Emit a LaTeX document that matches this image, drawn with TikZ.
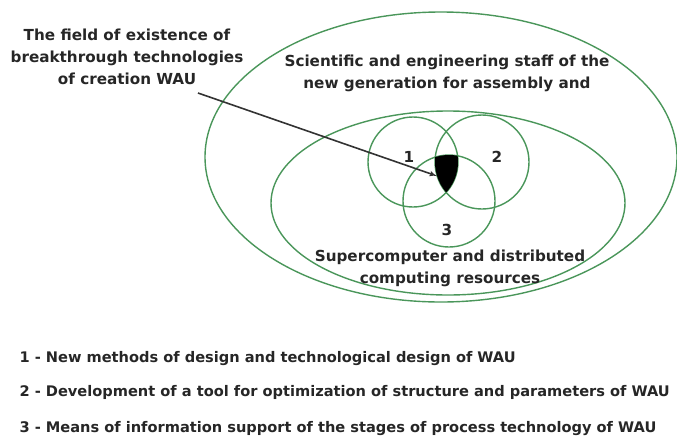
\documentclass[tikz,border=0pt]{standalone}
\usepackage{fontspec}
\setmainfont{DejaVu Sans}
\usetikzlibrary{arrows,shapes}
\definecolor{venngreen}{RGB}{74,150,90}
\tikzstyle{ring}=[ellipse,draw=venngreen,line width=1.4pt,inner sep=0pt]
\tikzstyle{venn}=[circle,draw=venngreen,line width=1.4pt,inner sep=0pt]
\tikzstyle{lbl}=[align=center,text=black!85,font=\bfseries\fontsize{15.2}{22}\selectfont]
\tikzstyle{item}=[anchor=base west,text=black!85,font=\bfseries\fontsize{14.6}{18}\selectfont]
\tikzstyle{edge} = [draw,line width=1.6pt,black!80,->,>=latex']

\begin{document}
\begin{tikzpicture}[x=1pt,y=-1pt]
      \useasboundingbox (0,0) rectangle (677,440);
      \node[ring,minimum width=472pt,minimum height=290pt] (staff) at (441,157) {};
      \node[ring,minimum width=354pt,minimum height=184pt] (super) at (448,203) {};
      \node[venn,minimum size=90pt] (c1) at (413,162) {};
      \node[venn,minimum size=94pt] (c2) at (482,162) {};
      \node[venn,minimum size=92pt] (c3) at (449,201) {};
      % common part of the three circles
      \begin{scope}
        \clip (c1.center) circle (45pt);
        \clip (c2.center) circle (47pt);
        \fill[black] (c3.center) circle (46pt);
      \end{scope}
      \node[lbl] (field) at (127,57) {The field of existence of\\breakthrough technologies\\of creation WAU};
      \node[lbl] (stafftext) at (447,73) {Scientific and engineering staff of the\\new generation for assembly and};
      \node[lbl] (supertext) at (450,268) {Supercomputer and distributed\\computing resources};
      \node[lbl] (n1) at (409,157) {1};
      \node[lbl] (n2) at (497,157) {2};
      \node[lbl] (n3) at (447,230) {3};
      \coordinate (tail) at (198,93);
      \coordinate (core) at (437,176);
      \draw[edge] (tail) -- (core);
      \node[item] (i1) at (16,362) {1 - New methods of design and technological design of WAU};
      \node[item] (i2) at (16,396) {2 - Development of a tool for optimization of structure and parameters of WAU};
      \node[item] (i3) at (16,432) {3 - Means of information support of the stages of process technology of WAU};
    \end{tikzpicture}
\end{document}
